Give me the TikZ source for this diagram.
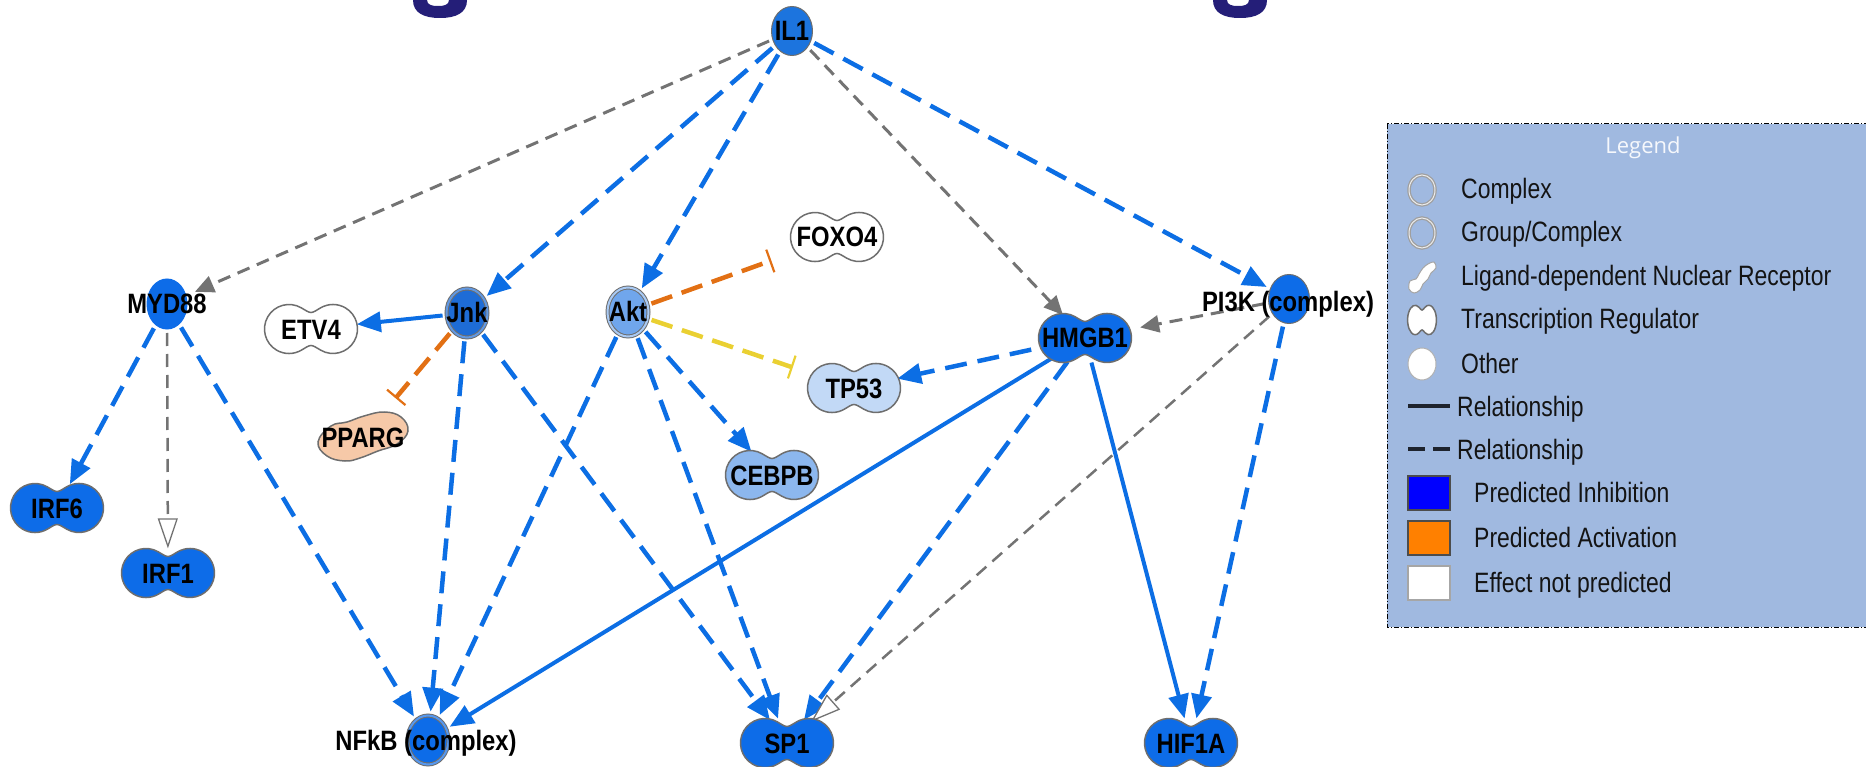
\documentclass[tikz,border=0pt]{standalone}
\usepackage{fontspec}
\setmainfont{Liberation Sans}
\newfontfamily\nodefont[FakeStretch=0.85]{Liberation Sans}
\newfontfamily\legfont[FakeStretch=0.82]{Liberation Sans}
\newfontfamily\ttlfont{Open Sans}
\usetikzlibrary{arrows.meta,shapes.geometric}
\pgfdeclarelayer{edgelayer}
\pgfsetlayers{edgelayer,main}
\definecolor{nblue}{RGB}{13,108,232}
\definecolor{ilblue}{RGB}{28,116,222}
\definecolor{jblue}{RGB}{30,108,214}
\definecolor{aktblue}{RGB}{112,166,236}
\definecolor{tpblue}{RGB}{194,217,246}
\definecolor{ceblue}{RGB}{140,183,238}
\definecolor{ppcol}{RGB}{246,201,168}
\definecolor{ngray}{RGB}{110,110,110}
\definecolor{eblue}{RGB}{12,110,228}
\definecolor{egray}{RGB}{115,115,115}
\definecolor{eorange}{RGB}{226,112,20}
\definecolor{eyellow}{RGB}{234,208,50}
\definecolor{legbg}{RGB}{160,185,224}
\definecolor{legdark}{RGB}{30,35,45}
\definecolor{titlenavy}{RGB}{36,30,120}
\newcommand\nlab{\nodefont\bfseries\fontsize{28}{30}\selectfont}
\newcommand\lgtxt{\legfont\fontsize{28}{30}\selectfont}
\newcommand\lgttl{\ttlfont\fontsize{22}{24}\selectfont}
\newcommand\peanutat[2]{%
  \filldraw[fill=#2, draw=ngray, line width=1.5pt, shift={#1}]
   (9.75pt,-21.2pt) arc[start angle=-120,end angle=120,radius=24.5pt]
   .. controls (5.4pt,18.7pt) and (2.5pt,16.5pt) .. (0pt,16.5pt)
   .. controls (-2.5pt,16.5pt) and (-5.4pt,18.7pt) .. (-9.75pt,21.2pt)
   arc[start angle=60,end angle=300,radius=24.5pt]
   .. controls (-5.4pt,-18.7pt) and (-2.5pt,-16.5pt) .. (0pt,-16.5pt)
   .. controls (2.5pt,-16.5pt) and (5.4pt,-18.7pt) .. (9.75pt,-21.2pt) -- cycle;}
\tikzset{
  cnode/.style={ellipse, inner sep=0pt, minimum width=41pt, minimum height=49pt,
    draw=ngray, line width=1pt, fill=nblue, outer sep=4pt},
  dring/.style={double=#1, double distance=2pt, line width=1pt},
  tnode/.style={ellipse, inner sep=0pt, minimum width=93pt, minimum height=49pt,
    font=\nlab, text height=20pt, text depth=0pt},
  lbl/.style={inner sep=2pt, font=\nlab, text height=20pt, text depth=0pt},
  bdash/.style={draw=eblue, line width=4.5pt, dash pattern=on 22pt off 11pt,
    -{Triangle[length=24pt,width=20pt]}},
  bsolid/.style={draw=eblue, line width=4pt, -{Triangle[length=24pt,width=20pt]}},
  gdash/.style={draw=egray, line width=3pt, dash pattern=on 13pt off 8pt,
    -{Triangle[length=19pt,width=17pt]}},
  gopen/.style={draw=egray, line width=2.5pt, dash pattern=on 13pt off 8pt,
    -{Triangle[length=30pt,width=20pt,fill=white,line width=1.3pt]}},
  inhib/.style={draw=#1, line width=4.5pt, dash pattern=on 22pt off 10pt,
    shorten >=23pt, -{Bar[width=24pt,line width=2.2pt]}},
  legtext/.style={anchor=base west, inner sep=0pt, font=\lgtxt, text=black!92},
  legsq/.style={line width=1.5pt},
  legring/.style={line width=3.5pt, draw=gray!75},
  legringin/.style={line width=1pt, draw=white!85!gray}
}
\begin{document}
\begin{tikzpicture}[x=1pt,y=-1pt]
\useasboundingbox (0,0) rectangle (1866,767);
\clip (0,0) rectangle (1866,767);

% fragments of the cut-off title
\fill[titlenavy, even odd rule]
  (413,0) .. controls (413,13) and (424,18) .. (440,18)
  .. controls (456,18) and (467,13) .. (467,0) -- cycle
  (427,0) .. controls (427,5) and (432,6) .. (438,6)
  .. controls (444,6) and (449,5) .. (449,0) -- cycle;
\fill[titlenavy, even odd rule]
  (1213,0) .. controls (1213,13) and (1224,18) .. (1240,18)
  .. controls (1256,18) and (1267,13) .. (1267,0) -- cycle
  (1227,0) .. controls (1227,5) and (1232,6) .. (1238,6)
  .. controls (1244,6) and (1249,5) .. (1249,0) -- cycle;

% ---- circular nodes
\node[cnode, fill=ilblue] (IL1) at (792,31) {};
\node[lbl] (IL1lbl) at (IL1) {IL1};
\node[cnode, draw=nblue, minimum width=40pt, minimum height=50pt] (MYD88) at (167,304) {};
\node[lbl] (MYD88lbl) at (MYD88) {MYD88};
\node[cnode, fill=jblue, dring=jblue!70!white] (Jnk) at (467,313) {};
\node[lbl] (Jnklbl) at (Jnk) {Jnk};
\node[cnode, fill=aktblue, dring=aktblue!60!white] (Akt) at (628,312) {};
\node[lbl] (Aktlbl) at (Akt) {Akt};
\node[cnode] (PI3K) at (1289,299) {};
\node[lbl] (PI3Klbl) at (1288,302) {PI3K (complex)};
\node[cnode, dring=nblue!70!white] (NFkB) at (428,740) {};
\node[lbl] (NFkBlbl) at (426,740) {NFkB (complex)};

% ---- transcription regulators
\peanutat{(311,329)}{white}
\node[tnode] (ETV4) at (311,329) {ETV4};
\peanutat{(837,237)}{white}
\node[tnode] (FOXO4) at (837,237) {FOXO4};
\peanutat{(854,388)}{tpblue}
\node[tnode] (TP53) at (854,388) {TP53};
\peanutat{(772,475)}{ceblue}
\node[tnode] (CEBPB) at (772,475) {CEBPB};
\peanutat{(1085,338)}{nblue}
\node[tnode] (HMGB1) at (1085,338) {HMGB1};
\peanutat{(57,508)}{nblue}
\node[tnode] (IRF6) at (57,508) {IRF6};
\peanutat{(168,573)}{nblue}
\node[tnode] (IRF1) at (168,573) {IRF1};
\peanutat{(787,743)}{nblue}
\node[tnode] (SP1) at (787,743) {SP1};
\peanutat{(1191,743)}{nblue}
\node[tnode] (HIF1A) at (1191,743) {HIF1A};

% ---- ligand-dependent nuclear receptor
\filldraw[fill=ppcol, draw=ngray, line width=1.5pt]
  plot[smooth cycle, tension=0.7] coordinates {(318,442) (331,426) (347,422)
   (364,416) (384,412) (401,417) (408,431) (397,444) (378,451) (360,458) (345,461) (327,456)};
\node[tnode, minimum width=90pt, minimum height=44pt] (PPARG) at (363,437) {PPARG};

% ---- connectors
\begin{pgfonlayer}{edgelayer}
\draw[gdash] (IL1) -- (MYD88lbl);
\draw[bdash] (IL1) -- (Jnk);
\draw[bdash] (IL1) -- (Akt);
\draw[gdash] (IL1) -- (HMGB1);
\draw[bdash] (IL1) -- (PI3K);
\draw[bsolid] (Jnk) -- (ETV4);
\draw[inhib=eorange] (Jnk) -- (PPARG);
\draw[bdash] (Jnk) -- (NFkB);
\draw[bdash] (Jnk) -- (SP1);
\draw[inhib=eorange] (Akt) -- (FOXO4);
\draw[inhib=eyellow] (Akt) -- (TP53);
\draw[bdash] (Akt) -- (NFkB);
\draw[bdash] (Akt) -- (SP1);
\draw[bdash] (Akt) -- (CEBPB);
\draw[bdash] (MYD88) -- (IRF6);
\draw[gopen] (MYD88) -- (IRF1);
\draw[bdash] (MYD88) -- (NFkB);
\draw[bdash] (HMGB1) -- (TP53);
\draw[bsolid] (HMGB1) -- (NFkB);
\draw[bdash] (HMGB1) -- (SP1);
\draw[bsolid] (HMGB1) -- (HIF1A);
\draw[gdash] (PI3K) -- (HMGB1);
\draw[gopen] (PI3K) -- (SP1);
\draw[bdash] (PI3K) -- (HIF1A);
\end{pgfonlayer}

% ---- legend
\filldraw[fill=legbg, draw=black, line width=1pt,
  dash pattern=on 5pt off 2pt on 1pt off 2pt] (1387,124) rectangle (1900,627);
\node[anchor=base, inner sep=0pt, font=\lgttl, text=white!90!legbg] (legtitle) at (1643,154) {Legend};
% icons
\draw[legring] (1422,190) ellipse [x radius=13pt, y radius=15pt];
\draw[legringin] (1422,190) ellipse [x radius=13pt, y radius=15pt];
\draw[legring] (1422,233) ellipse [x radius=13pt, y radius=15pt];
\draw[legringin] (1422,233) ellipse [x radius=13pt, y radius=15pt];
\filldraw[fill=white, draw=gray!70, line width=1pt]
  plot[smooth cycle, tension=0.6] coordinates {(1409,289) (1410,281) (1416,279) (1419,274)
   (1423,268) (1428,264) (1434,262) (1436,268) (1431,273) (1428,279) (1423,284)
   (1420,290) (1414,293)};
\begin{scope}[shift={(1422,320)}, xscale=0.31, yscale=0.6]
\peanutat{(0,0)}{white}
\end{scope}
\filldraw[fill=white, draw=gray!60, line width=1pt] (1422,364) ellipse [x radius=14pt, y radius=16pt];
\draw[legdark, line width=3.5pt] (1408,406) -- (1450,406);
\draw[legdark, line width=3.5pt, dash pattern=on 17pt off 8pt] (1408,449) -- (1450,449);
\filldraw[fill={rgb,255:red,0;green,0;blue,255}, draw=black!70, legsq] (1408,476) rectangle (1450,510);
\filldraw[fill={rgb,255:red,255;green,128;blue,0}, draw=black!70, legsq] (1408,521) rectangle (1450,555);
\filldraw[fill=white, draw=gray!70, legsq] (1408,566) rectangle (1450,600);
% legend texts
\node[legtext] (lg1) at (1461,199) {Complex};
\node[legtext] (lg2) at (1461,242) {Group/Complex};
\node[legtext] (lg3) at (1461,286) {Ligand-dependent Nuclear Receptor};
\node[legtext] (lg4) at (1461,329) {Transcription Regulator};
\node[legtext] (lg5) at (1461,373) {Other};
\node[legtext] (lg6) at (1457,416) {Relationship};
\node[legtext] (lg7) at (1457,459) {Relationship};
\node[legtext] (lg8) at (1474,502) {Predicted Inhibition};
\node[legtext] (lg9) at (1474,547) {Predicted Activation};
\node[legtext] (lg10) at (1474,592) {Effect not predicted};
\end{tikzpicture}
\end{document}
